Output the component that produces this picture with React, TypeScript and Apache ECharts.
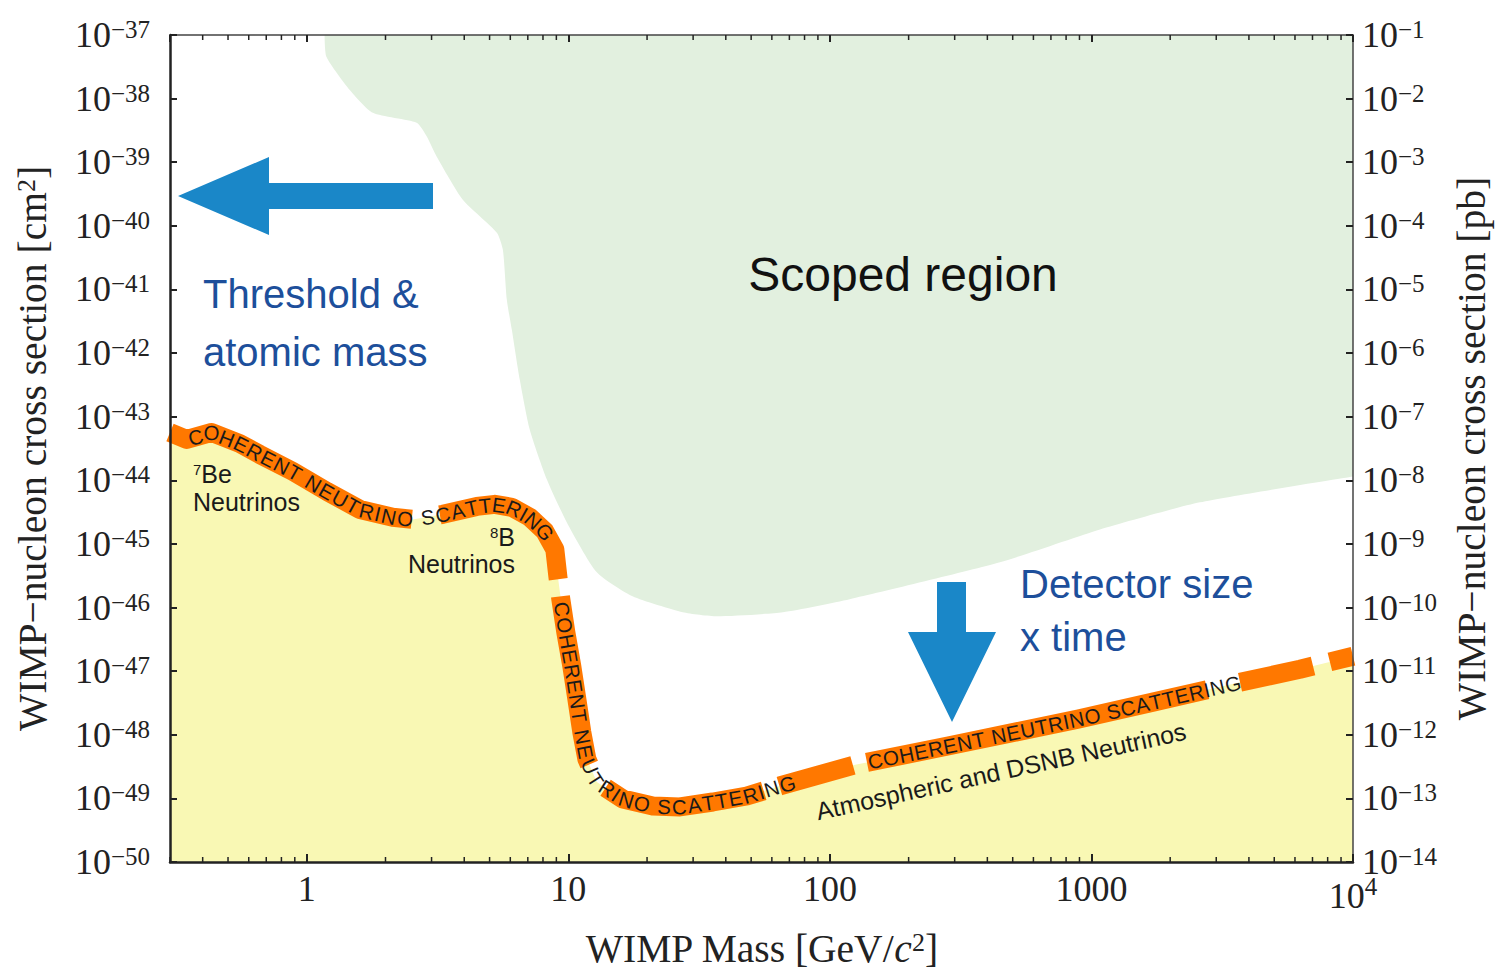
import React, { useEffect, useRef } from "react";
import * as echarts from "echarts";

const SANS = '"Liberation Sans", Arial, Helvetica, sans-serif';
const SERIF = '"Liberation Serif", "Times New Roman", Times, serif';

const INK = "#1a1a1a";
const AXIS = "#222222";
const BLUE_TEXT = "#1d4f9b";
const ARROW = "#1a87c8";
const ORANGE = "#ff7800";
const YELLOW = "#f9f8b4";
const GREEN = "#e2f0df";

// Neutrino floor: WIMP mass [GeV/c^2] and WIMP-nucleon cross section [cm^2]
const floorMass = [
  0.3, 0.348, 0.433, 0.554, 0.661, 0.884, 1.193, 1.595, 2.132, 2.543, 3.313,
  4.468, 5.235, 6.081, 7.124, 8.131, 8.879, 9.118, 9.361, 9.782, 10.31, 10.78,
  11.26, 11.77, 12.85, 16.16, 21.04, 26.7, 35.7, 48.15, 64.4, 123.6, 282.7,
  888.3, 1719, 3297, 6270, 10000,
];
const floorSigma = [
  5.65e-44, 4.39e-44, 5.65e-44, 3.79e-44, 2.55e-44, 1.38e-44, 6.7e-45,
  3.49e-45, 2.62e-45, 2.43e-45, 2.92e-45, 3.89e-45, 4.19e-45, 3.76e-45,
  2.62e-45, 1.58e-45, 8.22e-46, 3.1e-46, 1.35e-46, 4.09e-47, 1.2e-47, 3.63e-48,
  1.1e-48, 4.16e-49, 1.81e-49, 9.79e-50, 7.6e-50, 7.33e-50, 8.77e-50, 1.09e-49,
  1.57e-49, 3.34e-49, 6.65e-49, 1.76e-48, 3.26e-48, 6.03e-48, 1.07e-47,
  1.72e-47,
];

// Lower boundary of the scoped region
const scopedMass = [
  1.17, 1.19, 1.46, 1.79, 2.63, 2.88, 3.14, 3.95, 5.33, 5.62, 5.82, 6.08, 6.52,
  7.12, 8.28, 9.87, 12.85, 17.6, 27.4, 37.0, 66.1, 119, 447, 1078, 2600, 10000,
];
const scopedSigma = [
  1e-37, 4.52e-38, 1.37e-38, 5.97e-39, 4.16e-39, 2.51e-39, 1.22e-39, 2.57e-40,
  7.8e-41, 4.22e-41, 6.92e-42, 2.34e-42, 3.84e-43, 6.3e-44, 1.03e-44, 2.18e-45,
  3.58e-46, 1.5e-46, 8.43e-47, 7.29e-47, 8.43e-47, 1.35e-46, 5.14e-46,
  1.69e-45, 4.5e-45, 1.15e-44,
];

// Open stretches of the floor band: start and end points [mass, sigma]
const gapStart = [
  [2.52, 2.43e-45], [9.12, 2.78e-46], [11.67, 3.23e-49], [55.4, 1.46e-49],
  [122.4, 3.34e-49], [2765, 5.21e-48], [7034, 1.2e-47],
];
const gapEnd = [
  [3.23, 2.81e-45], [9.36, 1.5e-46], [13.79, 1.41e-49], [63.8, 1.68e-49],
  [138.5, 3.72e-49], [3698, 6.71e-48], [8166, 1.38e-47],
];

// Curve lettering, written along the floor between these points
const floorLabel = "COHERENT NEUTRINO SCATTERING";
const floorLabelStart = [[0.351, 4.89e-44], [9.2, 1.21e-46], [139.8, 3.72e-49]];
const floorLabelEnd = [[8.35, 1.18e-45], [73.5, 1.87e-49], [3698, 7.48e-48]];

const massTicks = [1, 10, 100, 1000, 10000];
const cmRange = [-50, -37]; // log10 of cm^2
const pbRange = [-14, -1]; // log10 of pb

const lg = (v: number) => Math.log10(v);

function massLabel(v: number) {
  const hit = massTicks.find((t) => Math.abs(lg(t) - lg(v)) < 0.01);
  if (hit === undefined) return "";
  if (hit >= 10000) return "{e|10}{f|" + Math.round(lg(hit)) + "}";
  return "{b|" + hit + "}";
}

function powerLabel(v: number) {
  return "{b|10}{s|\u2212" + Math.abs(Math.round(v)) + "}";
}

const tickRich = {
  b: { fontFamily: SERIF, fontSize: 36, color: AXIS },
  s: { fontFamily: SERIF, fontSize: 25, color: AXIS, verticalAlign: "top" as const },
};
const massRich = {
  b: { fontFamily: SERIF, fontSize: 36, color: AXIS },
  e: { fontFamily: SERIF, fontSize: 36, color: AXIS, padding: [7, 0, 0, 0] },
  f: { fontFamily: SERIF, fontSize: 25, color: AXIS, verticalAlign: "top" as const, padding: [3, 0, 0, 0] },
};
const titleRich = {
  n: { fontFamily: SERIF, fontSize: 39.5, color: AXIS },
  i: { fontFamily: SERIF, fontSize: 39.5, color: AXIS, fontStyle: "italic" as const },
  s: { fontFamily: SERIF, fontSize: 26, color: AXIS, verticalAlign: "top" as const },
};

function makePath(pts: number[][]) {
  const cum = [0];
  for (let i = 1; i < pts.length; i++) {
    cum.push(cum[i - 1] + Math.hypot(pts[i][0] - pts[i - 1][0], pts[i][1] - pts[i - 1][1]));
  }
  const total = cum[cum.length - 1];
  const at = (sIn: number) => {
    const s = Math.max(0, Math.min(total, sIn));
    let i = 1;
    while (i < pts.length - 1 && cum[i] < s) i++;
    const seg = cum[i] - cum[i - 1] || 1;
    const t = (s - cum[i - 1]) / seg;
    return [
      pts[i - 1][0] + t * (pts[i][0] - pts[i - 1][0]),
      pts[i - 1][1] + t * (pts[i][1] - pts[i - 1][1]),
    ];
  };
  const project = (p: number[]) => {
    let best = Infinity;
    let arc = 0;
    for (let i = 1; i < pts.length; i++) {
      const ax = pts[i - 1][0];
      const ay = pts[i - 1][1];
      const dx = pts[i][0] - ax;
      const dy = pts[i][1] - ay;
      const l2 = dx * dx + dy * dy || 1;
      let t = ((p[0] - ax) * dx + (p[1] - ay) * dy) / l2;
      t = Math.max(0, Math.min(1, t));
      const d = Math.hypot(p[0] - (ax + t * dx), p[1] - (ay + t * dy));
      if (d < best) {
        best = d;
        arc = cum[i - 1] + t * Math.sqrt(l2);
      }
    }
    return arc;
  };
  return { total, at, project };
}

function staticGraphics(): any[] {
  const txt = (x: number, y: number, text: string, size: number, fill: string, align = "left", extra: any = {}) => ({
    type: "text",
    x,
    y,
    z: 60,
    ...extra,
    style: { text, fontFamily: SANS, fontSize: size, fill, align, verticalAlign: "middle", ...(extra.style || {}) },
  });
  const neutrinoRich = {
    p: { fontFamily: SANS, fontSize: 15, fill: INK, color: INK, verticalAlign: "top" },
    q: { fontFamily: SANS, fontSize: 25, fill: INK, color: INK },
  };
  return [
    txt(903, 274, "Scoped region", 48, "#111111", "center"),
    txt(203, 294, "Threshold &", 40, BLUE_TEXT),
    txt(203, 352, "atomic mass", 40, BLUE_TEXT),
    txt(1020, 584, "Detector size", 40, BLUE_TEXT),
    txt(1020, 637, "x time", 40, BLUE_TEXT),
    txt(193, 474, "{p|7}{q|Be}", 25, INK, "left", { style: { rich: neutrinoRich } }),
    txt(193, 502, "Neutrinos", 25, INK),
    txt(515, 537, "{p|8}{q|B}", 25, INK, "right", { style: { rich: neutrinoRich } }),
    txt(515, 564, "Neutrinos", 25, INK, "right"),
    txt(1001, 771, "Atmospheric and DSNB Neutrinos", 25, INK, "center", { rotation: 0.216 }),
    {
      type: "polygon",
      z: 55,
      shape: { points: [[178, 196], [269, 157], [269, 183], [433, 183], [433, 209], [269, 209], [269, 235]] },
      style: { fill: ARROW },
    },
    {
      type: "polygon",
      z: 55,
      shape: { points: [[937, 582], [966, 582], [966, 632], [996, 632], [952, 722], [908, 632], [937, 632]] },
      style: { fill: ARROW },
    },
  ];
}

function buildOption(): any {
  const floorData = floorMass.map((m, i) => [m, lg(floorSigma[i])]);
  const scopedData = scopedMass.map((m, i) => [m, lg(scopedSigma[i])]);
  return {
    animation: false,
    backgroundColor: "#ffffff",
    grid: { left: 170, right: 143, top: 35, bottom: 112, containLabel: false, outerBoundsMode: "none" },
    xAxis: [
      {
        type: "log",
        logBase: 10,
        min: 0.3,
        max: 10000,
        position: "bottom",
        z: 10,
        axisLine: { lineStyle: { color: AXIS, width: 2.5 } },
        axisTick: { inside: true, length: 8, lineStyle: { color: AXIS, width: 2 } },
        splitLine: { show: false },
        axisLabel: { margin: 9, showMinLabel: false, hideOverlap: false, formatter: massLabel, rich: massRich },
        name: "{n|WIMP Mass [GeV/}{i|c}{s|2}{n|]}",
        nameLocation: "middle",
        nameGap: 67,
        nameTextStyle: { rich: titleRich },
      },
      {
        type: "log",
        logBase: 10,
        min: 0.3,
        max: 10000,
        position: "top",
        z: 10,
        axisLine: { lineStyle: { color: "#444", width: 1.5 } },
        axisTick: { inside: true, length: 7, lineStyle: { color: AXIS, width: 2 } },
        splitLine: { show: false },
        axisLabel: { show: false },
      },
    ],
    yAxis: [
      {
        type: "value",
        min: cmRange[0],
        max: cmRange[1],
        interval: 1,
        position: "left",
        z: 10,
        axisLine: { show: true, lineStyle: { color: AXIS, width: 2.5 } },
        axisTick: { show: true, inside: true, length: 7, lineStyle: { color: AXIS, width: 2 } },
        splitLine: { show: false },
        axisLabel: { margin: 20, hideOverlap: false, formatter: powerLabel, rich: tickRich },
        name: "{n|WIMP\u2212nucleon cross section [cm}{s|2}{n|]}",
        nameLocation: "middle",
        nameRotate: 90,
        nameGap: 117,
        nameTextStyle: { rich: titleRich },
      },
      {
        type: "value",
        min: pbRange[0],
        max: pbRange[1],
        interval: 1,
        position: "right",
        z: 10,
        axisLine: { show: true, lineStyle: { color: "#444", width: 1.5 } },
        axisTick: { show: true, inside: true, length: 7, lineStyle: { color: AXIS, width: 2 } },
        splitLine: { show: false },
        axisLabel: { margin: 9, hideOverlap: false, formatter: powerLabel, rich: tickRich },
        name: "{n|WIMP\u2212nucleon cross section [pb]}",
        nameLocation: "middle",
        nameRotate: 90,
        nameGap: 99,
        nameTextStyle: { rich: titleRich },
      },
    ],
    series: [
      {
        id: "scoped",
        name: "Scoped region",
        type: "line",
        data: scopedData,
        symbol: "none",
        smooth: 0.2,
        silent: true,
        z: 1,
        lineStyle: { width: 0 },
        areaStyle: { color: GREEN, opacity: 1, origin: "end" },
      },
      {
        id: "floor",
        name: "Neutrino floor",
        type: "line",
        data: floorData,
        symbol: "none",
        smooth: false,
        silent: true,
        z: 2,
        lineStyle: { color: ORANGE, width: 19, join: "round", cap: "butt" },
        areaStyle: { color: YELLOW, opacity: 1, origin: "start" },
      },
    ],
    graphic: { elements: staticGraphics() },
  };
}

function decorate(chart: echarts.ECharts) {
  const toPx = (m: number, s: number) =>
    chart.convertToPixel({ seriesIndex: 1 }, [m, lg(s)]) as number[];
  const pts = floorMass.map((m, i) => toPx(m, floorSigma[i]));
  const path = makePath(pts);

  // dash pattern that leaves the listed stretches open
  const gaps = gapStart
    .map((g, i) => [path.project(toPx(g[0], g[1])), path.project(toPx(gapEnd[i][0], gapEnd[i][1]))])
    .map(([a, b]) => [Math.min(a, b), Math.max(a, b)])
    .sort((a, b) => a[0] - b[0]);
  const dash: number[] = [];
  let pos = 0;
  for (const [a, b] of gaps) {
    dash.push(Math.max(a - pos, 0.1), Math.max(b - a, 0.1));
    pos = b;
  }
  dash.push(path.total - pos + 60, 60);

  const elements: any[] = [];

  // lettering along the floor curve
  const size = 20.5;
  const canvas = document.createElement("canvas");
  const ctx = canvas.getContext("2d")!;
  ctx.font = `${size}px ${SANS}`;
  const chars = Array.from(floorLabel);
  const widths = chars.map((c) => ctx.measureText(c).width);
  const textWidth = widths.reduce((a, b) => a + b, 0);
  floorLabelStart.forEach((st, k) => {
    const en = floorLabelEnd[k];
    const s0 = path.project(toPx(st[0], st[1]));
    const s1 = path.project(toPx(en[0], en[1]));
    const extra = (s1 - s0 - textWidth) / (chars.length - 1);
    let s = s0;
    chars.forEach((ch, i) => {
      const c = s + widths[i] / 2;
      s += widths[i] + extra;
      if (ch === " ") return;
      const p = path.at(c);
      const a = path.at(c - 6);
      const b = path.at(c + 6);
      const ang = Math.atan2(b[1] - a[1], b[0] - a[0]);
      elements.push({
        type: "text",
        x: p[0],
        y: p[1],
        rotation: -ang,
        z: 60,
        style: { text: ch, fontFamily: SANS, fontSize: size, fill: INK, align: "center", verticalAlign: "middle" },
      });
    });
  });

  // logarithmic minor ticks on the bottom and top mass axes
  const yBottom = chart.convertToPixel({ yAxisIndex: 0 }, cmRange[0]) as number;
  const yTop = chart.convertToPixel({ yAxisIndex: 0 }, cmRange[1]) as number;
  for (let e = -1; e <= 3; e++) {
    for (let k = 2; k <= 9; k++) {
      const m = k * Math.pow(10, e);
      if (m <= 0.3 || m >= 10000) continue;
      const x = chart.convertToPixel({ xAxisIndex: 0 }, m) as number;
      elements.push({ type: "line", z: 50, shape: { x1: x, y1: yBottom, x2: x, y2: yBottom - 5 }, style: { stroke: AXIS, lineWidth: 1.5 } });
      elements.push({ type: "line", z: 50, shape: { x1: x, y1: yTop, x2: x, y2: yTop + 5 }, style: { stroke: AXIS, lineWidth: 1.5 } });
    }
  }

  chart.setOption({
    series: [{ id: "floor", lineStyle: { type: dash } }],
    graphic: { elements: [...staticGraphics(), ...elements] },
  });
}

export default function App() {
  const ref = useRef<HTMLDivElement>(null);
  useEffect(() => {
    const el = ref.current;
    if (!el) return;
    const chart = echarts.init(el, null, { renderer: "svg" });
    chart.setOption(buildOption());
    decorate(chart);
    return () => chart.dispose();
  }, []);
  return (
    <div
      ref={ref}
      style={{ position: "fixed", left: 0, top: 0, width: 1496, height: 974, background: "#ffffff" }}
    />
  );
}
